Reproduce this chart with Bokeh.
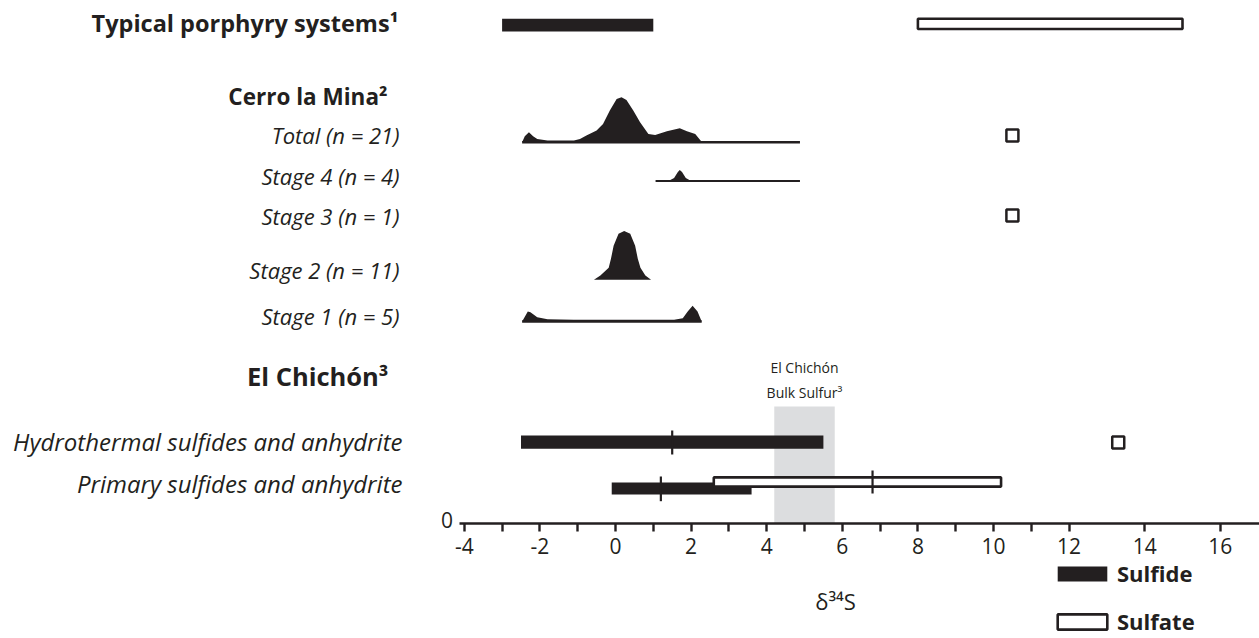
from bokeh.plotting import figure
from bokeh.models import Range1d, LinearAxis, FixedTicker, Label, Legend, LegendItem, ColumnDataSource
from bokeh.core.properties import value
from bokeh.embed import file_html
from bokeh.resources import INLINE

# ---------------- data (delta34S, per mil) ----------------
major_ticks = [-4, -2, 0, 2, 4, 6, 8, 10, 12, 14, 16]
minor_ticks = [-3, -1, 1, 3, 5, 7, 9, 11]

porphyry_sulfide = [-3.0, 1.0]
porphyry_sulfate = [8.0, 15.0]

hydro_sulfide = [-2.5, 5.5]
hydro_sulfide_mean = 1.5
hydro_sulfate = 13.3

primary_sulfide = [-0.1, 3.6]
primary_sulfide_mean = 1.2
primary_sulfate = [2.6, 10.2]
primary_sulfate_mean = 6.8

bulk_sulfur = [4.2, 5.8]

cerro_sulfate_total = 10.5
cerro_sulfate_stage3 = 10.5

total_range = [-2.47, 4.88]
total_x = [-2.47, -2.40, -2.29, -2.18, -2.07, -1.80, -1.10, -0.94, -0.77, -0.50, -0.33, -0.15,
           0.03, 0.16, 0.29, 0.47, 0.65, 0.87, 1.05, 1.36, 1.70, 1.89, 2.11, 2.25, 2.30]
total_h = [0, 6, 10, 6, 3.3, 1.7, 1.7, 3.3, 6.7, 11.7, 18.3, 31.7,
           43.3, 45, 42.3, 31.7, 20, 8.3, 7.3, 11, 14, 11, 8.3, 1.7, 0]

stage4_range = [1.06, 4.88]
stage4_x = [1.40, 1.55, 1.65, 1.70, 1.76, 1.86, 2.00]
stage4_h = [0, 3, 9, 11, 9, 3, 0]

stage2_x = [-0.57, -0.40, -0.18, -0.12, -0.05, 0.08, 0.23, 0.39, 0.52, 0.59, 0.66, 0.79, 0.94]
stage2_h = [0, 4.3, 12, 21, 34, 46, 48.7, 46, 34, 21, 12, 4.3, 0]

stage1_x = [-2.47, -2.32, -2.25, -2.07, -1.80, -1.10, 1.55, 1.78, 1.91, 2.04, 2.17, 2.28]
stage1_h = [0, 10, 9.3, 4.3, 2.3, 1.7, 1.7, 3.3, 10, 15.7, 10, 0]

bold_labels = ["Typical porphyry systems\u00b9", "Cerro la Mina\u00b2", "El Chich\u00f3n\u00b3"]
italic_labels = ["Total (n = 21)", "Stage 4 (n = 4)", "Stage 3 (n = 1)", "Stage 2 (n = 11)",
                 "Stage 1 (n = 5)", "Hydrothermal sulfides and anhydrite",
                 "Primary sulfides and anhydrite"]

# ---------------- layout (y in page px) ----------------
INK = "#231f20"
FONT = value("Open Sans")
PX0, SCALE = 615.0, 37.8          # page x of 0 per mil, px per unit
W, H = 1259, 638
AXIS_Y = 522.7

def vx(page_x):
    return (page_x - PX0) / SCALE

x_start, x_end = vx(0), vx(W)

p = figure(width=W, height=H, x_range=Range1d(x_start, x_end), y_range=Range1d(H, 0),
           output_backend="svg", toolbar_location=None, x_axis_location=None, y_axis_location=None,
           min_border_left=0, min_border_right=0, min_border_top=0, min_border_bottom=0)
p.outline_line_color = None
p.xgrid.visible = False
p.ygrid.visible = False

ax = LinearAxis(ticker=FixedTicker(ticks=major_ticks, minor_ticks=minor_ticks),
                bounds=(-4.12, x_end), fixed_location=AXIS_Y)
ax.axis_line_width = 2.7
ax.axis_line_color = INK
ax.major_tick_line_color = INK
ax.minor_tick_line_color = INK
ax.major_tick_line_width = 2.4
ax.minor_tick_line_width = 2.4
ax.major_tick_out = 8
ax.major_tick_in = 0
ax.minor_tick_out = 8
ax.minor_tick_in = 0
ax.major_label_standoff = 7
ax.major_label_text_font = "Open Sans"
ax.major_label_text_font_size = "21px"
ax.major_label_text_color = INK
ax.major_label_overrides = {t: str(t) for t in major_ticks}
p.add_layout(ax, "below")

# Bulk sulfur band
p.quad(left=[bulk_sulfur[0]], right=[bulk_sulfur[1]], top=[406], bottom=[AXIS_Y],
       fill_color="#dcdddf", line_color=None)

# Sulfide (black) bars
black_src = ColumnDataSource(dict(
    left=[porphyry_sulfide[0], hydro_sulfide[0], primary_sulfide[0]],
    right=[porphyry_sulfide[1], hydro_sulfide[1], primary_sulfide[1]],
    y=[24.6, 441.7, 488.0],
    h=[12.6, 13.3, 12.0]))
r_black = p.hbar(y="y", left="left", right="right", height="h", source=black_src,
                 fill_color=INK, line_color=None)

# Sulfate (open) bars
open_src = ColumnDataSource(dict(
    left=[porphyry_sulfate[0], primary_sulfate[0]],
    right=[porphyry_sulfate[1], primary_sulfate[1]],
    y=[23.4, 481.5],
    h=[10.2, 9.2]))
r_open = p.hbar(y="y", left="left", right="right", height="h", source=open_src,
                fill_color="white", line_color=INK, line_width=2.6)

# mean ticks
p.segment(x0=[hydro_sulfide_mean, primary_sulfide_mean, primary_sulfate_mean],
          x1=[hydro_sulfide_mean, primary_sulfide_mean, primary_sulfate_mean],
          y0=[430, 476, 470], y1=[454, 500.7, 493], line_color=INK, line_width=2.2)

# Cerro la Mina distributions
def density(xs, hs, base):
    p.varea(x=xs, y1=[base] * len(xs), y2=[base - h for h in hs], fill_color=INK)

density(total_x, total_h, 141.7)
p.line(total_range, [141.7, 141.7], line_color=INK, line_width=2.4)
density(stage4_x, stage4_h, 180.5)
p.line(stage4_range, [180.5, 180.5], line_color=INK, line_width=2.2)
density(stage2_x, stage2_h, 279.3)
density(stage1_x, stage1_h, 321.0)
p.line([stage1_x[0], stage1_x[-1]], [321.0, 321.0], line_color=INK, line_width=2.4)

# sulfate squares
p.scatter(x=[cerro_sulfate_total, cerro_sulfate_stage3, hydro_sulfate], y=[135, 215, 442],
          marker="square", size=12, fill_color="white", line_color=INK, line_width=2.5)

# Row labels
bold_src = ColumnDataSource(dict(x=[vx(398), vx(387), vx(388)], y=[22, 96, 375],
                                 text=bold_labels, size=["23.5px", "22.5px", "25.5px"]))
p.text(x="x", y="y", text="text", text_font_size="size", source=bold_src,
       text_font=FONT, text_font_style="bold", text_color=INK,
       text_align="right", text_baseline="middle")
ital_src = ColumnDataSource(dict(x=[vx(399)] * 5 + [vx(402)] * 2,
                                 y=[134, 175, 215, 269, 315, 441, 483],
                                 text=italic_labels,
                                 size=["22px"] * 5 + ["24px"] * 2))
p.text(x="x", y="y", text="text", text_font_size="size", source=ital_src,
       text_font=FONT, text_font_style="italic", text_color=INK,
       text_align="right", text_baseline="middle")

# Bulk sulfur annotation
p.text(x=[sum(bulk_sulfur) / 2] * 2, y=[367, 392], text=["El Chich\u00f3n", "Bulk Sulfur\u00b3"],
       text_font=FONT, text_font_size="14px", text_color=INK,
       text_align="center", text_baseline="middle")

# axis extras
p.add_layout(Label(x=vx(446.5), y=519, text="0", text_font="Open Sans", text_font_size="21px",
                   text_color=INK, text_align="center", text_baseline="middle"))
p.add_layout(Label(x=vx(835), y=600, text="\u03b4\u00b3\u2074S", text_font="Open Sans",
                   text_font_size="22px", text_color=INK, text_align="center",
                   text_baseline="middle"))

legend = Legend(items=[LegendItem(label="Sulfide", renderers=[r_black]),
                       LegendItem(label="Sulfate", renderers=[r_open])],
                location=(1051, 2), orientation="vertical",
                glyph_width=62, glyph_height=19, label_standoff=4, spacing=18,
                padding=0, margin=0, border_line_alpha=0, background_fill_alpha=0,
                label_text_font="Open Sans", label_text_font_style="bold",
                label_text_font_size="22px", label_text_color=INK)
p.add_layout(legend)

open("out.html", "w").write(file_html(p, INLINE))
